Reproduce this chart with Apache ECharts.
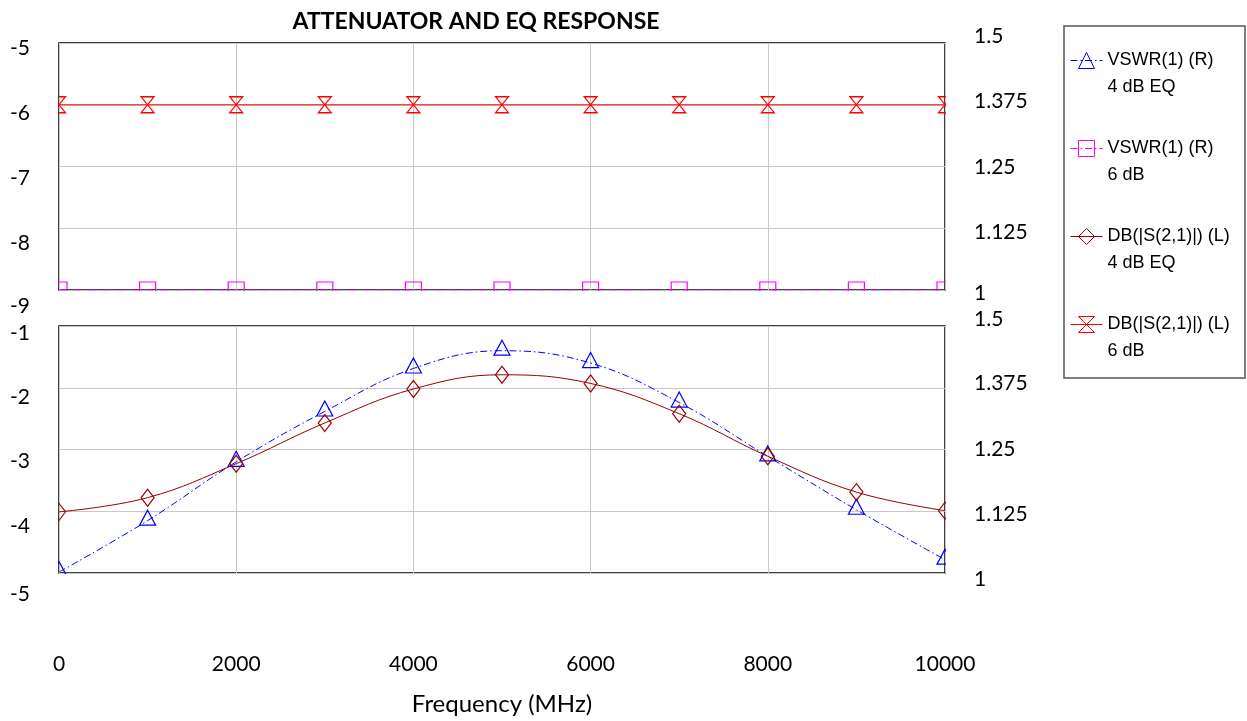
<!DOCTYPE html>
<html>
<head>
<meta charset="utf-8">
<script src="https://cdn.jsdelivr.net/npm/echarts@6/dist/echarts.min.js"></script>
<style>
html,body{margin:0;padding:0;background:#fff;}
#chart{width:1247px;height:721px;}
</style>
</head>
<body>
<div id="chart"></div>
<script>
// ---- data ----
const freq = [0, 1000, 2000, 3000, 4000, 5000, 6000, 7000, 8000, 9000, 10000];
const vswrEq = [1.002, 1.106, 1.225, 1.327, 1.414, 1.450, 1.425, 1.345, 1.236, 1.128, 1.027];
const vswr6dB = [1.0, 1.0, 1.0, 1.0, 1.0, 1.0, 1.0, 1.0, 1.0, 1.0, 1.0];
const s21Eq = [-4.01, -3.78, -3.23, -2.57, -2.02, -1.79, -1.93, -2.42, -3.11, -3.69, -3.99];
const s21_6dB = [-6.0, -6.0, -6.0, -6.0, -6.0, -6.0, -6.0, -6.0, -6.0, -6.0, -6.0];
const xTicks = [0, 2000, 4000, 6000, 8000, 10000];
const leftTopTicks = [-9, -8, -7, -6, -5];
const leftBottomTicks = [-5, -4, -3, -2, -1];
const rightTicks = [1, 1.125, 1.25, 1.375, 1.5];
const seriesNames = ['VSWR(1) (R)\n4 dB EQ', 'VSWR(1) (R)\n6 dB', 'DB(|S(2,1)|) (L)\n4 dB EQ', 'DB(|S(2,1)|) (L)\n6 dB'];
const seriesColors = ['#0000ff', '#ff00ff', '#990000', '#ff0000'];
const titleText = 'ATTENUATOR AND EQ RESPONSE';
const xName = 'Frequency (MHz)';

const pairs = ys => freq.map((f, i) => [f, ys[i]]);

const FONT = 'Lato';
const GRID_L = 59, GRID_W = 886, G1_T = 43, G2_T = 326, G_H = 247;

function offsetLabel(offsets, base) {
  const rich = {};
  offsets.forEach((d, i) => {
    rich['o' + i] = Object.assign({}, base, {
      padding: d >= 0 ? [2 * d, 0, 0, 0] : [0, 0, -2 * d, 0]
    });
  });
  return { formatter: (v, i) => '{o' + i + '|' + v + '}', rich: rich };
}
const labelBase = { fontFamily: FONT, fontSize: 21, color: '#000' };

function yAxis(gridIdx, min, max, interval, pos, offsets, split) {
  const ol = offsetLabel(offsets, labelBase);
  return {
    type: 'value', gridIndex: gridIdx, min: min, max: max, interval: interval,
    position: pos,
    axisLine: { show: false }, axisTick: { show: false },
    splitLine: { show: split, lineStyle: { color: '#c8c8c8', width: 1 } },
    axisLabel: Object.assign({ margin: 29, fontFamily: FONT, fontSize: 21, color: '#000' }, ol)
  };
}

const hourglass = 'path://M0,0 L13,0 L0,16 L13,16 Z';
const clear = 'rgba(255,255,255,0)';
const dashDot = [7, 3, 1.5, 3];
const MASK = '#fff';

function lineSeries(i, xi, yi, ys, symbol, size, extra) {
  return Object.assign({
    name: seriesNames[i], type: 'line', xAxisIndex: xi, yAxisIndex: yi, data: pairs(ys),
    symbol: symbol, symbolSize: size, color: seriesColors[i],
    itemStyle: { color: clear, borderColor: seriesColors[i], borderWidth: 1.2 },
    lineStyle: { color: seriesColors[i], width: 1 }, z: 3
  }, extra || {});
}

const option = {
  backgroundColor: '#fff',
  animation: false,
  title: {
    text: titleText, left: 471, top: 5, textAlign: 'center',
    textStyle: { fontFamily: FONT, fontWeight: 'bold', fontSize: 23, color: '#000' }
  },
  legend: {
    orient: 'vertical', left: 1070, top: 20, padding: 0,
    itemWidth: 32, itemHeight: 20, itemGap: 7,
    data: seriesNames,
    itemStyle: { borderWidth: 1 },
    lineStyle: { width: 1 },
    // a blank first line keeps the icon level with the first text line
    formatter: name => ' \n' + name,
    textStyle: { fontFamily: 'Liberation Sans', fontSize: 18, color: '#000', lineHeight: 27 }
  },
  grid: [
    { left: GRID_L, top: G1_T, width: GRID_W, height: G_H, show: true, borderColor: '#000', borderWidth: 1.5, backgroundColor: 'transparent' },
    { left: GRID_L, top: G2_T, width: GRID_W, height: G_H, show: true, borderColor: '#000', borderWidth: 1.5, backgroundColor: 'transparent' }
  ],
  xAxis: [
    { type: 'value', gridIndex: 0, min: xTicks[0], max: xTicks[xTicks.length - 1], interval: 2000,
      axisLine: { show: false }, axisTick: { show: false }, axisLabel: { show: false },
      splitLine: { show: true, lineStyle: { color: '#c8c8c8', width: 1 } } },
    { type: 'value', gridIndex: 1, min: xTicks[0], max: xTicks[xTicks.length - 1], interval: 2000,
      axisLine: { show: false }, axisTick: { show: false },
      axisLabel: { margin: 81, fontFamily: FONT, fontSize: 21, color: '#000', formatter: v => String(v) },
      splitLine: { show: true, lineStyle: { color: '#c8c8c8', width: 1 } },
      name: xName, nameLocation: 'middle', nameGap: 119,
      nameTextStyle: { fontFamily: FONT, fontSize: 24, color: '#000' } }
  ],
  yAxis: [
    yAxis(0, leftTopTicks[0], leftTopTicks[4], 1, 'left', [16.7, 15, 12, 8.2, 5.6], true),
    yAxis(0, rightTicks[0], rightTicks[4], 0.125, 'right', [3.3, 3.5, 0.4, -3.5, -7], false),
    yAxis(1, leftBottomTicks[0], leftBottomTicks[4], 1, 'left', [21.7, 15.3, 11.7, 9, 6.8], true),
    yAxis(1, rightTicks[0], rightTicks[4], 0.125, 'right', [6.7, 3.3, -0.7, -4.3, -6.5], false)
  ],
  series: [
    lineSeries(0, 1, 3, vswrEq, 'triangle', [16, 15], {
      smooth: 0.4, symbolOffset: [0, -3],
      lineStyle: { color: seriesColors[0], width: 1, type: dashDot } }),
    lineSeries(1, 0, 1, vswr6dB, 'rect', 16, {
      lineStyle: { color: seriesColors[1], width: 1, type: dashDot } }),
    lineSeries(2, 1, 2, s21Eq, 'diamond', [13, 17], { smooth: 0.4 }),
    lineSeries(3, 0, 0, s21_6dB, hourglass, [13, 16])
  ],
  graphic: {
    elements: [
      // white masks that clip markers at the plot edges
      { type: 'rect', zlevel: 1, z: 100, silent: true, shape: { x: 32, y: 30, width: GRID_L - 32 - 1, height: 580 }, style: { fill: MASK } },
      { type: 'rect', zlevel: 1, z: 100, silent: true, shape: { x: GRID_L + GRID_W + 1, y: 30, width: 26, height: 580 }, style: { fill: MASK } },
      { type: 'rect', zlevel: 1, z: 100, silent: true, shape: { x: 32, y: G1_T + G_H + 1, width: 940, height: G2_T - G1_T - G_H - 2 }, style: { fill: MASK } },
      { type: 'rect', zlevel: 1, z: 100, silent: true, shape: { x: 32, y: G2_T + G_H + 1, width: 940, height: 30 }, style: { fill: MASK } },
      // legend frame
      { type: 'rect', silent: true, shape: { x: 1064, y: 26, width: 181, height: 352 }, style: { fill: 'none', stroke: '#555', lineWidth: 1.5 } }
    ]
  }
};

const chart = echarts.init(document.getElementById('chart'), null, { renderer: 'canvas' });
chart.setOption(option);
</script>
</body>
</html>
